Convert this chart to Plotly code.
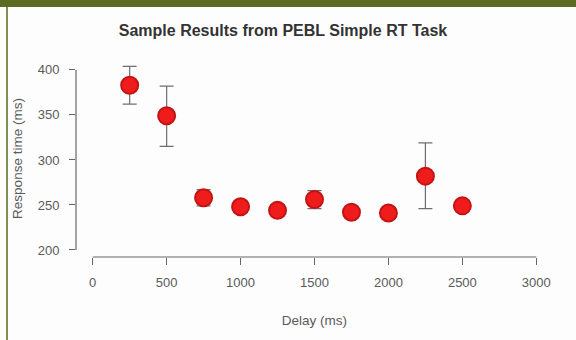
import plotly.graph_objects as go

delay = [250, 500, 750, 1000, 1250, 1500, 1750, 2000, 2250, 2500]
rt = [383, 349, 258, 248, 244, 256, 242, 241, 282, 249]
err_plus = [21, 33, 9, 6, 6, 10, 5, 5, 37, 6]
err_minus = [21, 34, 9, 6, 6, 10, 5, 5, 36, 6]
x_ticks = [0, 500, 1000, 1500, 2000, 2500, 3000]
y_ticks = [200, 250, 300, 350, 400]

L, R, T, B = 76, 23, 60, 83
W, H = 576, 340
pw, ph = W - L - R, H - T - B

def px_x(x):
    return (x - L) / pw

def px_y(y):
    return (H - B - y) / ph

fig = go.Figure()
fig.add_trace(go.Scatter(
    x=delay, y=rt, mode="markers",
    error_y=dict(type="data", array=err_plus, arrayminus=err_minus,
                 color="#6e6e6e", thickness=1.2, width=7),
    marker=dict(size=17, color="#f01c1c", line=dict(color="#c21414", width=2)),
    showlegend=False,
))

shapes = [
    dict(type="line", xref="x", yref="paper", x0=x_ticks[0], x1=x_ticks[-1], y0=0, y1=0,
         line=dict(color="#666666", width=1.2)),
    dict(type="line", xref="paper", yref="y", x0=0, x1=0, y0=y_ticks[0], y1=y_ticks[-1],
         line=dict(color="#666666", width=1.2)),
    dict(type="rect", xref="paper", yref="paper", x0=px_x(0), x1=px_x(W), y0=px_y(7), y1=px_y(0),
         fillcolor="#5b6b21", line=dict(width=0), layer="above"),
    dict(type="rect", xref="paper", yref="paper", x0=px_x(6), x1=px_x(8), y0=px_y(H), y1=px_y(7),
         fillcolor="#7f9150", line=dict(width=0), layer="above"),
]

fig.update_layout(
    width=W, height=H,
    margin=dict(l=L, r=R, t=T, b=B),
    paper_bgcolor="#fdfdfd", plot_bgcolor="#fdfdfd",
    title=dict(text="<b>Sample Results from PEBL Simple RT Task</b>",
               x=283 / W, xanchor="center", y=1 - 30 / H, yanchor="middle",
               font=dict(family="Liberation Sans, Arial, sans-serif", size=16, color="#333333")),
    font=dict(family="Liberation Sans, Arial, sans-serif", size=13, color="#5a5a5a"),
    xaxis=dict(range=[-113, 3113], tickvals=x_ticks, ticks="outside", ticklen=7,
               tickcolor="#666666", showgrid=False, zeroline=False, showline=False,
               ticklabelstandoff=6, tickfont=dict(size=13),
               title=dict(text="Delay (ms)", standoff=26, font=dict(size=13.5, color="#5a5a5a"))),
    yaxis=dict(range=[192.2, 411], tickvals=y_ticks, ticks="outside", ticklen=6,
               tickcolor="#666666", showgrid=False, zeroline=False, showline=False,
               ticklabelstandoff=7, tickfont=dict(size=13),
               title=dict(text="Response time (ms)", standoff=11, font=dict(size=13.5, color="#5a5a5a"))),
    shapes=shapes,
)

fig.write_html("out.html")
